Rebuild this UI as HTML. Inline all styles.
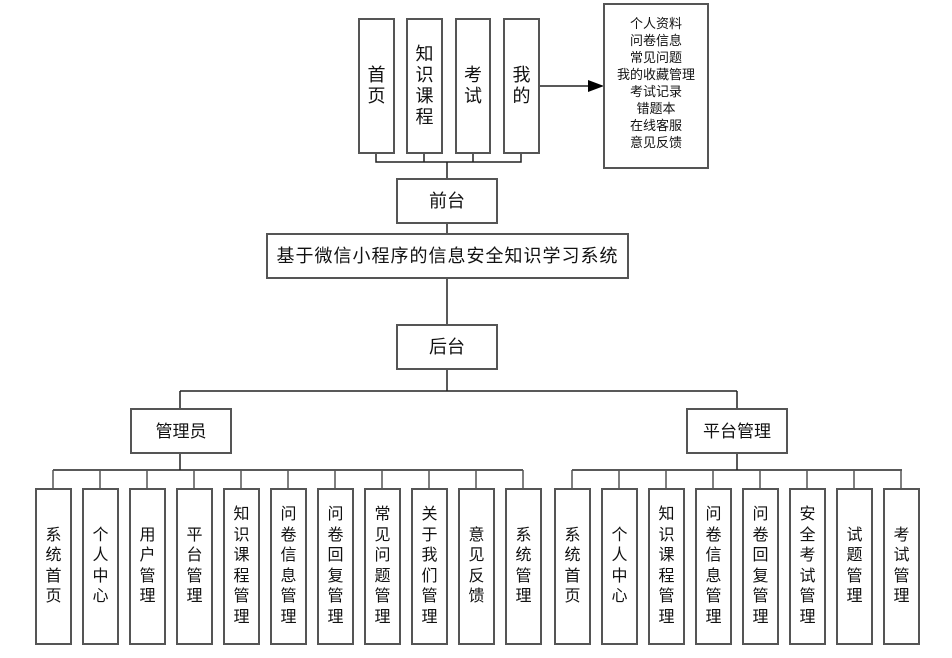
<!DOCTYPE html>
<html><head><meta charset="utf-8"><style>
body{margin:0;width:952px;height:658px;background:#fff;position:relative;overflow:hidden;font-family:"Liberation Sans","Noto Sans CJK SC",sans-serif;color:#111}
.b{position:absolute;box-sizing:border-box;border:2px solid #555;background:#fff;display:flex;align-items:center;justify-content:center;text-align:center}
.v{font-size:16px;line-height:20.5px;width:16px;margin:0 auto}
.t{font-size:18px;line-height:21px}
svg{position:absolute;left:0;top:0}
</style></head><body>
<svg width="952" height="658">
<g stroke="#222" stroke-width="1.5" fill="none">
<path d="M376 153V162H521V153M424 153V162M473 153V162M447 162V178"/>
<path d="M539 86H590"/>
<path d="M447 223V233M447 278V324M447 369V391M180 391H737M180 391V408M737 391V408"/>
<path d="M180 453V470M53 470H523M737 453V470M572 470H902"/>
</g>
<path d="M588 80L604 86L588 92Z" fill="#000"/>
<g stroke="#555" stroke-width="1.5">
<path d="M53 470V488M100 470V488M147 470V488M194 470V488M241 470V488M288 470V488M335 470V488M382 470V488M429 470V488M476 470V488M523 470V488"/>
<path d="M572 470V488M619 470V488M666 470V488M713 470V488M760 470V488M807 470V488M854 470V488M901 470V488"/>
</g>
</svg>
<div class="b" style="left:358px;top:18px;width:37px;height:136px"><div class="v t" style="width:18px">首<br>页</div></div>
<div class="b" style="left:406px;top:18px;width:37px;height:136px"><div class="v t" style="width:18px">知<br>识<br>课<br>程</div></div>
<div class="b" style="left:455px;top:18px;width:36px;height:136px"><div class="v t" style="width:18px">考<br>试</div></div>
<div class="b" style="left:503px;top:18px;width:37px;height:136px"><div class="v t" style="width:18px">我<br>的</div></div>
<div class="b" style="left:603px;top:3px;width:106px;height:166px;align-items:flex-start;padding-top:10px"><div style="font-size:13px;line-height:17px">个人资料<br>问卷信息<br>常见问题<br>我的收藏管理<br>考试记录<br>错题本<br>在线客服<br>意见反馈</div></div>
<div class="b" style="left:396px;top:178px;width:102px;height:46px"><span class="t">前台</span></div>
<div class="b" style="left:266px;top:233px;width:363px;height:46px"><span class="t" style="letter-spacing:1px">基于微信小程序的信息安全知识学习系统</span></div>
<div class="b" style="left:396px;top:324px;width:102px;height:46px"><span class="t">后台</span></div>
<div class="b" style="left:130px;top:408px;width:102px;height:46px"><span class="t" style="font-size:17px">管理员</span></div>
<div class="b" style="left:686px;top:408px;width:102px;height:46px"><span class="t" style="font-size:17px">平台管理</span></div>

<div class="b" style="left:35px;top:488px;width:37px;height:157px"><div class="v">系<br>统<br>首<br>页</div></div>
<div class="b" style="left:82px;top:488px;width:37px;height:157px"><div class="v">个<br>人<br>中<br>心</div></div>
<div class="b" style="left:129px;top:488px;width:37px;height:157px"><div class="v">用<br>户<br>管<br>理</div></div>
<div class="b" style="left:176px;top:488px;width:37px;height:157px"><div class="v">平<br>台<br>管<br>理</div></div>
<div class="b" style="left:223px;top:488px;width:37px;height:157px"><div class="v">知<br>识<br>课<br>程<br>管<br>理</div></div>
<div class="b" style="left:270px;top:488px;width:37px;height:157px"><div class="v">问<br>卷<br>信<br>息<br>管<br>理</div></div>
<div class="b" style="left:317px;top:488px;width:37px;height:157px"><div class="v">问<br>卷<br>回<br>复<br>管<br>理</div></div>
<div class="b" style="left:364px;top:488px;width:37px;height:157px"><div class="v">常<br>见<br>问<br>题<br>管<br>理</div></div>
<div class="b" style="left:411px;top:488px;width:37px;height:157px"><div class="v">关<br>于<br>我<br>们<br>管<br>理</div></div>
<div class="b" style="left:458px;top:488px;width:37px;height:157px"><div class="v">意<br>见<br>反<br>馈</div></div>
<div class="b" style="left:505px;top:488px;width:37px;height:157px"><div class="v">系<br>统<br>管<br>理</div></div>

<div class="b" style="left:554px;top:488px;width:37px;height:157px"><div class="v">系<br>统<br>首<br>页</div></div>
<div class="b" style="left:601px;top:488px;width:37px;height:157px"><div class="v">个<br>人<br>中<br>心</div></div>
<div class="b" style="left:648px;top:488px;width:37px;height:157px"><div class="v">知<br>识<br>课<br>程<br>管<br>理</div></div>
<div class="b" style="left:695px;top:488px;width:37px;height:157px"><div class="v">问<br>卷<br>信<br>息<br>管<br>理</div></div>
<div class="b" style="left:742px;top:488px;width:37px;height:157px"><div class="v">问<br>卷<br>回<br>复<br>管<br>理</div></div>
<div class="b" style="left:789px;top:488px;width:37px;height:157px"><div class="v">安<br>全<br>考<br>试<br>管<br>理</div></div>
<div class="b" style="left:836px;top:488px;width:37px;height:157px"><div class="v">试<br>题<br>管<br>理</div></div>
<div class="b" style="left:883px;top:488px;width:37px;height:157px"><div class="v">考<br>试<br>管<br>理</div></div>
</body></html>
